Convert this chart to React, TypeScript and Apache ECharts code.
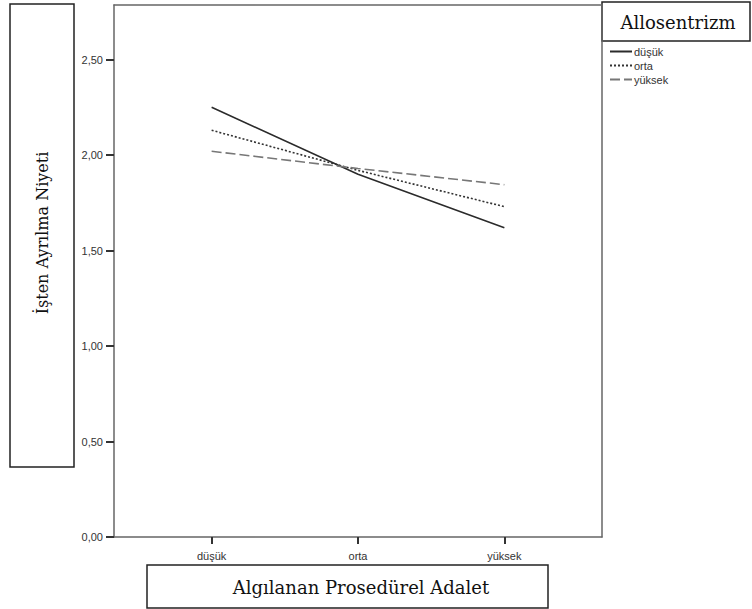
import React, { useEffect, useRef } from "react";
import * as echarts from "echarts";

const categories = ["düşük", "orta", "yüksek"];
const seriesNames = ["düşük", "orta", "yüksek"];
const dusukValues = [2.25, 1.9, 1.62];
const ortaValues = [2.13, 1.92, 1.73];
const yuksekValues = [2.02, 1.93, 1.845];
const yTicks = [0, 0.5, 1, 1.5, 2, 2.5];
const yAxisTitle = "İşten Ayrılma Niyeti";
const xAxisTitle = "Algılanan Prosedürel Adalet";
const legendTitle = "Allosentrizm";

export default function App() {
  const ref = useRef<HTMLDivElement>(null);
  useEffect(() => {
    if (!ref.current) return;
    const chart = echarts.init(ref.current, null, { renderer: "svg" });
    const toData = (vals: number[]) => vals.map((v, i) => [i, v]);
    const styles = [
      { color: "#2b2b2b", type: "solid" as const, width: 1.6 },
      { color: "#333333", type: [2, 2] as any, width: 1.6 },
      { color: "#777777", type: [10, 4] as any, width: 1.6 },
    ];
    const allVals = [dusukValues, ortaValues, yuksekValues];
    const serif = "'DejaVu Serif', 'Liberation Serif', serif";
    const sans = "Arial, 'Liberation Sans', sans-serif";
    const frameLine = { color: "#666", width: 1.5 };
    chart.setOption({
      animation: false,
      grid: { left: 114, top: 5, right: 150, bottom: 72 },
      xAxis: [
        {
          type: "value",
          min: -0.667,
          max: 2.667,
          splitLine: { show: false },
          axisLine: { show: true, onZero: false, lineStyle: frameLine },
          axisTick: {
            show: true,
            inside: false,
            customValues: [0, 1, 2],
            length: 7,
            lineStyle: { color: "#333", width: 2 },
          },
          axisLabel: {
            customValues: [0, 1, 2],
            formatter: (v: number) => categories[Math.round(v)] ?? "",
            fontFamily: sans,
            fontSize: 11,
            color: "#333",
            margin: 13,
          },
        },
        {
          type: "value",
          position: "top",
          min: -0.667,
          max: 2.667,
          splitLine: { show: false },
          axisLine: { show: true, onZero: false, lineStyle: frameLine },
          axisTick: { show: false },
          axisLabel: { show: false },
        },
      ],
      yAxis: [
        {
          type: "value",
          min: 0,
          max: 2.786,
          splitLine: { show: false },
          axisLine: { show: true, onZero: false, lineStyle: frameLine },
          axisTick: {
            show: true,
            inside: false,
            customValues: yTicks,
            length: 8,
            lineStyle: { color: "#333", width: 2 },
          },
          axisLabel: {
            customValues: yTicks,
            formatter: (v: number) => v.toFixed(2).replace(".", ","),
            fontFamily: sans,
            fontSize: 11,
            color: "#333",
            margin: 11,
          },
        },
        {
          type: "value",
          position: "right",
          min: 0,
          max: 2.786,
          splitLine: { show: false },
          axisLine: { show: true, onZero: false, lineStyle: frameLine },
          axisTick: { show: false },
          axisLabel: { show: false },
        },
      ],
      legend: {
        orient: "vertical",
        left: 604,
        top: 41,
        itemWidth: 22,
        itemHeight: 8,
        itemGap: 3,
        itemStyle: { opacity: 0, borderWidth: 0 },
        textStyle: {
          fontFamily: sans,
          fontSize: 11,
          color: "#333",
          padding: [0, 0, 0, -3],
        },
        data: seriesNames,
      },
      series: seriesNames.map((name, i) => ({
        name,
        type: "line",
        data: toData(allVals[i]),
        symbol: "none",
        lineStyle: styles[i],
        itemStyle: { color: styles[i].color },
      })),
      graphic: [
        {
          type: "rect",
          shape: { x: 10, y: 4, width: 64, height: 463 },
          style: { fill: "#fff", stroke: "#222", lineWidth: 1.5 },
        },
        {
          type: "text",
          x: 42,
          y: 233,
          rotation: Math.PI / 2,
          style: {
            text: yAxisTitle,
            font: `16px ${serif}`,
            fill: "#111",
            align: "center",
            verticalAlign: "middle",
          },
        },
        {
          type: "rect",
          shape: { x: 147, y: 565, width: 401, height: 43 },
          style: { fill: "#fff", stroke: "#222", lineWidth: 1.5 },
        },
        {
          type: "text",
          x: 361,
          y: 587,
          style: {
            text: xAxisTitle,
            font: `18px ${serif}`,
            fill: "#111",
            align: "center",
            verticalAlign: "middle",
          },
        },
        {
          type: "rect",
          shape: { x: 602, y: 2, width: 148, height: 39 },
          style: { fill: "#fff", stroke: "#222", lineWidth: 1.5 },
        },
        {
          type: "text",
          x: 678,
          y: 22,
          style: {
            text: legendTitle,
            font: `18px ${serif}`,
            fill: "#111",
            align: "center",
            verticalAlign: "middle",
          },
        },
      ],
    });
    return () => chart.dispose();
  }, []);
  return (
    <div
      ref={ref}
      style={{ position: "fixed", left: 0, top: 0, width: 752, height: 609, background: "#fff" }}
    />
  );
}
